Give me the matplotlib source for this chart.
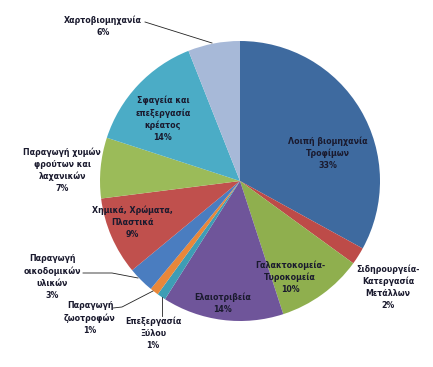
import matplotlib.pyplot as plt

# share of each industry (%), clockwise from 12 o'clock
labels = ['Λοιπή βιομηχανία\nΤροφίμων', 'Σιδηρουργεία-\nΚατεργασία\nΜετάλλων',
          'Γαλακτοκομεία-\nΤυροκομεία', 'Ελαιοτριβεία', 'Επεξεργασία\nΞύλου',
          'Παραγωγή\nζωοτροφών', 'Παραγωγή\nοικοδομικών\nυλικών',
          'Χημικά, Χρώματα,\nΠλαστικά', 'Παραγωγή χυμών\nφρούτων και\nλαχανικών',
          'Σφαγεία και\nεπεξεργασία\nκρέατος', 'Χαρτοβιομηχανία']
values = [33, 2, 10, 14, 1, 1, 3, 9, 7, 14, 6]
colors = ['#3E6A9F', '#BD4B48', '#8FAF4E', '#6F559A', '#3E9DB5', '#E8873A',
          '#4A7DC0', '#C0504D', '#9BBB59', '#4BACC6', '#A7B9D8']

W, H = 433, 367
CX, CY, R = 240, 181, 140


def px(x, y):
    # pixel position -> data coords (pie radius = 1)
    return (x - CX) / R, (CY - y) / R


# label centres in pixels
label_pos = [(328, 153), (388, 287), (290, 277), (223, 303), (153, 333),
             (90, 318), (52, 277), (132, 222), (62, 170), (163, 119), (103, 26)]
# leader lines in pixels
leaders = [[(145, 22), (212, 43)],
           [(83, 273), (112, 273), (138, 278)],
           [(113, 308), (122, 307), (153, 291)],
           [(162, 316), (162, 297)]]

fig = plt.figure(figsize=(W / 100, H / 100), dpi=100)
ax = fig.add_axes([0, 0, 1, 1])
ax.pie(values, colors=colors, startangle=90, counterclock=False, radius=1,
       wedgeprops=dict(linewidth=0))

for lab, v, (x, y) in zip(labels, values, label_pos):
    tx, ty = px(x, y)
    ax.text(tx, ty, f'{lab}\n{v}%', ha='center', va='center', fontsize=5.7,
            family='Liberation Sans Narrow', fontweight='bold', color='#1a1a2e',
            linespacing=1.4)

for line in leaders:
    xs, ys = zip(*[px(x, y) for x, y in line])
    ax.plot(xs, ys, color='#222222', lw=0.6)

ax.set_xlim(-CX / R, (W - CX) / R)
ax.set_ylim(-(H - CY) / R, CY / R)
ax.axis('off')
fig.savefig('out.png', dpi=100)
